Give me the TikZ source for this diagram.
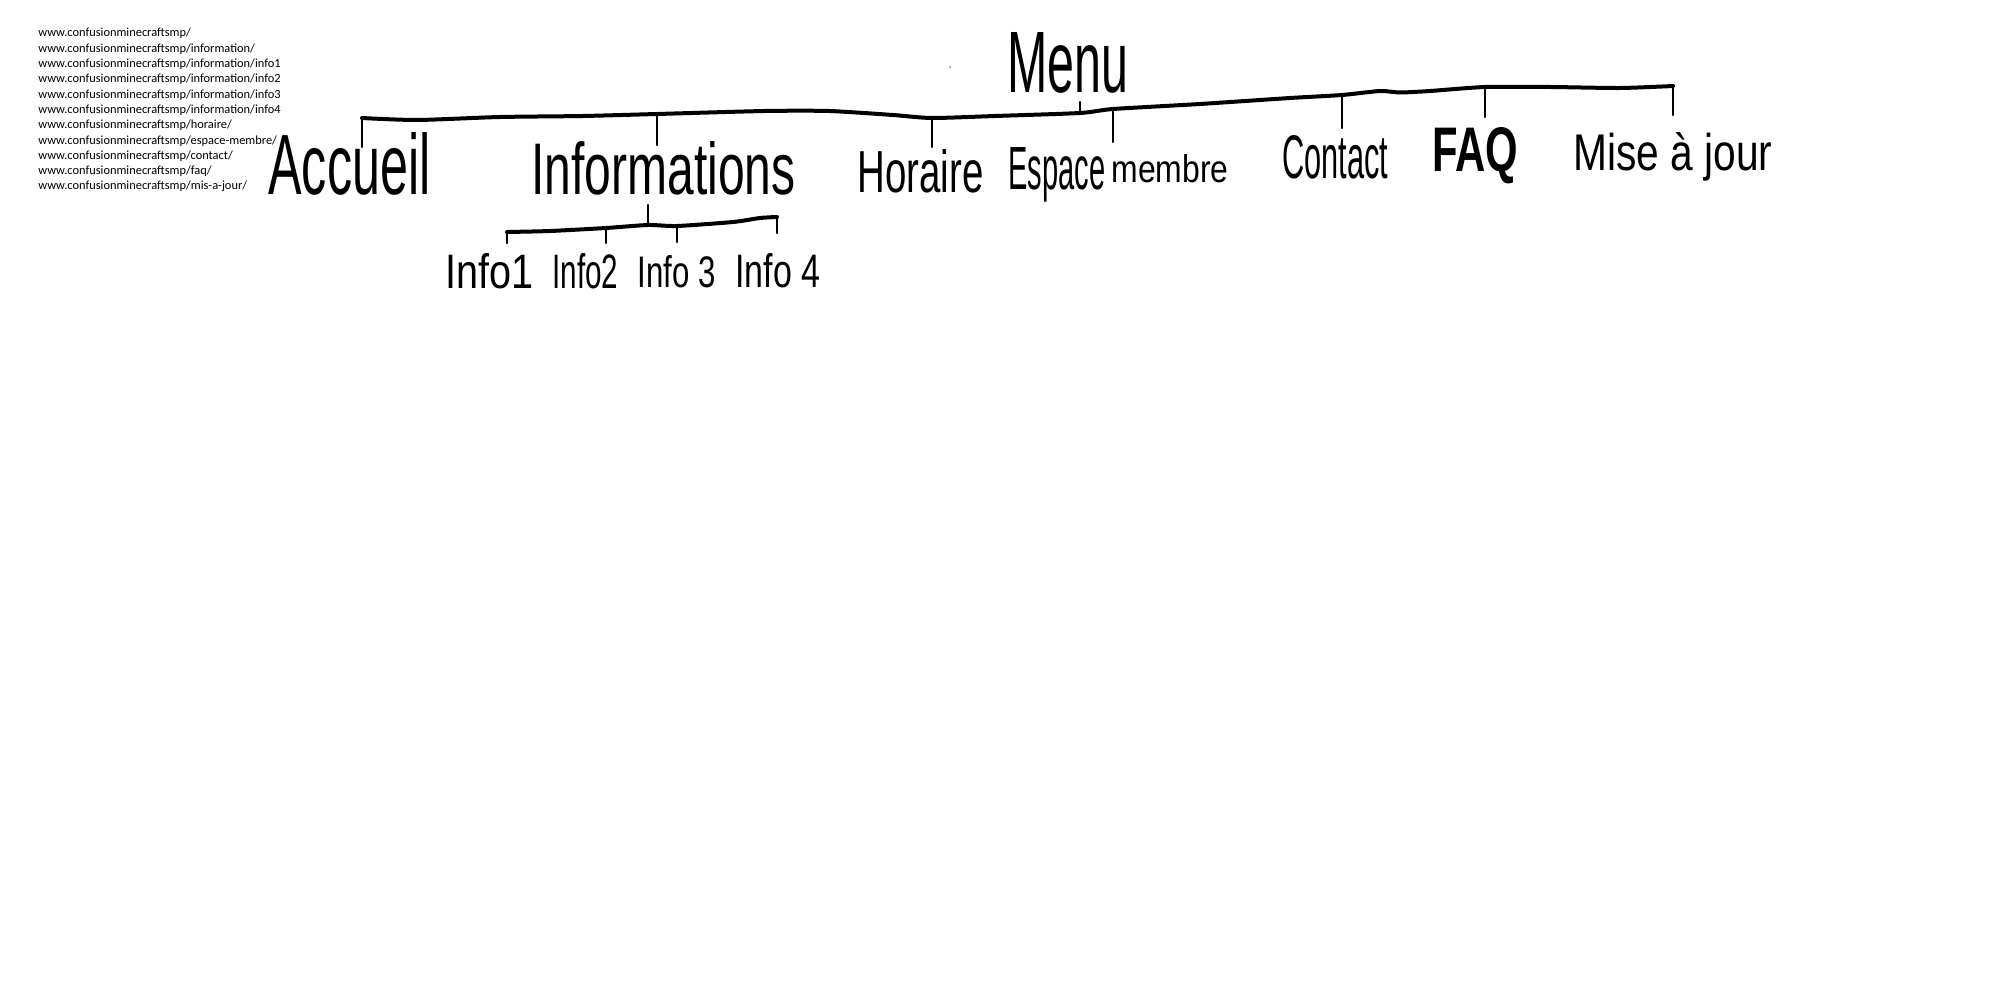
\documentclass[tikz,border=0pt]{standalone}
\usepackage{fontspec}
\usepackage{graphicx}
\newfontfamily\urlfont{Carlito}
\newfontfamily\hwfont{Liberation Sans}
\newlength\pxu
\setlength\pxu{0.5pt}
\newcommand\hw[3]{\resizebox{#1\pxu}{#2\pxu}{#3}}
\begin{document}
\begin{tikzpicture}[x=0.5pt,y=-0.5pt,
  urltext/.style={anchor=base west, inner sep=0pt, font=\urlfont\fontsize{6.2}{7.6}\selectfont},
  hand/.style={anchor=base west, inner sep=0pt, font=\hwfont},
  handbold/.style={anchor=base west, inner sep=0pt, font=\hwfont\bfseries},
  bus/.style={line width=2pt, line cap=round, line join=round},
  stem/.style={line width=1.1pt, line cap=round}]
\useasboundingbox[fill=white] (0,0) rectangle (2000,1000);

% URL list
\foreach \t [count=\i from 0] in {
  www.confusionminecraftsmp/,
  www.confusionminecraftsmp/information/,
  www.confusionminecraftsmp/information/info1,
  www.confusionminecraftsmp/information/info2,
  www.confusionminecraftsmp/information/info3,
  www.confusionminecraftsmp/information/info4,
  www.confusionminecraftsmp/horaire/,
  www.confusionminecraftsmp/espace-membre/,
  www.confusionminecraftsmp/contact/,
  www.confusionminecraftsmp/faq/,
  www.confusionminecraftsmp/mis-a-jour/}
  \node[urltext] (url\i) at (38,{37+15.3*\i}) {\t};

% tiny speck
\fill[gray] (950,67) circle (1);

% labels
\node[hand] (menu) at (1007,93) {\hw{121}{60}{Menu}};
\node[hand] (acc) at (268,195) {\hw{162}{62}{Accueil}};
\node[hand] (inf) at (531,195) {\hw{264}{53}{Informations}};
\node[hand] (hor) at (857,193) {\hw{126}{43}{Horaire}};
\node[hand] (esp) at (1008,190) {\hw{97}{42}{Espace}\hspace{6\pxu}\raisebox{7\pxu}{\hw{117}{28}{membre}}};
\node[hand] (con) at (1282,178) {\hw{106}{43}{Contact}};
\node[handbold] (faq) at (1432,172) {\hw{86}{44}{FAQ}};
\node[hand] (mis) at (1573,170) {\hw{199}{38}{Mise à jour}};
\node[hand] (i1) at (445,288) {\hw{88}{35}{Info1}};
\node[hand] (i2) at (552,288) {\hw{66}{35}{Info2}};
\node[hand] (i3) at (637,287) {\hw{78}{32}{Info 3}};
\node[hand] (i4) at (735,287) {\hw{85}{34}{Info 4}};

% bus junctions
\coordinate (b-acc) at (362,118);
\coordinate (b-inf) at (657,114);
\coordinate (b-hor) at (932,118);
\coordinate (b-menu) at (1080,113);
\coordinate (b-esp) at (1113,109);
\coordinate (b-con) at (1342,95);
\coordinate (b-faq) at (1485,87);
\coordinate (b-mis) at (1673,86);
% stem ends
\coordinate (t-acc) at (362,147);
\coordinate (t-inf) at (657,145);
\coordinate (t-hor) at (932,147);
\coordinate (t-menu) at (1080,102);
\coordinate (t-esp) at (1113,142);
\coordinate (t-con) at (1342,128);
\coordinate (t-faq) at (1485,117);
\coordinate (t-mis) at (1673,115);

% main bus
\draw[bus] plot[smooth,tension=0.4] coordinates {(b-acc) (417,120) (500,117) (583,116) (b-inf) (765,111) (829,111) (893,115) (b-hor) (995,116) (b-menu) (b-esp) (1200,104) (1290,98) (b-con) (1380,91) (1400,92.5) (1430,91) (b-faq) (1550,87) (1620,88) (b-mis)};

\foreach \n in {acc,inf,hor,menu,esp,con,faq,mis}
  \draw[stem] (b-\n) -- (t-\n);

% sub bus
\coordinate (s-i1) at (507,232);
\coordinate (s-i2) at (606,228);
\coordinate (s-inf) at (648,225);
\coordinate (s-i3) at (677,226);
\coordinate (s-i4) at (777,217);
\coordinate (u-inf) at (648,205);
\coordinate (u-i1) at (507,243);
\coordinate (u-i2) at (606,243);
\coordinate (u-i3) at (677,242);
\coordinate (u-i4) at (777,233);

\draw[bus] plot[smooth,tension=0.4] coordinates {(s-i1) (550,231) (s-i2) (s-inf) (s-i3) (733,222) (760,218) (s-i4)};
\foreach \n in {inf,i1,i2,i3,i4}
  \draw[stem] (s-\n) -- (u-\n);
\end{tikzpicture}
\end{document}
